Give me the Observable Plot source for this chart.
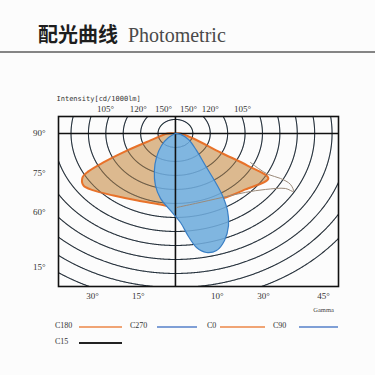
<!DOCTYPE html>
<html>
<head>
<meta charset="utf-8">
<script src="https://cdn.jsdelivr.net/npm/d3@7"></script>
<script src="https://cdn.jsdelivr.net/npm/@observablehq/plot@0.6"></script>
<style>
  html, body { margin: 0; padding: 0; background: #fcfcfc; }
  #wrap { position: relative; width: 375px; height: 375px; overflow: hidden; background: #fcfcfc; }
  #chart { position: absolute; left: 0; top: 0; }
  .title { position: absolute; left: 38px; top: 19px; white-space: nowrap; }
  .title .cn { font-family: "Noto Sans CJK SC", sans-serif; font-weight: 700; font-size: 20px; color: #1e1e1e; }
  .title .en { font-family: "Liberation Serif", serif; font-size: 20px; color: #4a4a4a; margin-left: 10px; }
  .rule { position: absolute; left: 0; top: 51px; width: 375px; height: 2px; background: #858585; }
  .leg { position: absolute; font-family: "Liberation Serif", serif; font-size: 8px; color: #333; }
  .legline { position: absolute; height: 2px; }
</style>
</head>
<body>
<div id="wrap">
  <div class="title"><span class="cn">配光曲线</span><span class="en">Photometric</span></div>
  <div class="rule"></div>
  <div id="chart"></div>
  <div id="legend"></div>
</div>
<script>
// ---- data (ring units: x = horizontal, y = vertical, centre of the lamp at 0,0) ----
const rings = [1, 2, 3, 4, 5, 6, 7, 8, 9, 10, 11, 12];
const xDomain = [-6.72, 9.37];
const yDomain = [-10.93, 1.21];

const orangeX = [0, -0.46, -1.44, -2.76, -4.14, -5.0, -5.34, -5.29, -4.71, -3.56, -2.18, -0.86, 0, 1.03, 2.70, 4.02, 5.34, 4.14, 2.59, 1.03, 0.29, 0];
const orangeY = [0, 0, -0.5, -1.21, -2.07, -2.71, -3.14, -3.71, -4.07, -4.43, -4.79, -5.07, -5.29, -5.0, -4.64, -4.0, -3.21, -2.29, -1.36, -0.36, 0, 0];

const blueX = [0, -0.40, -0.80, -1.09, -1.21, -1.15, -0.86, -0.29, 0.29, 0.75, 1.21, 1.78, 2.36, 2.82, 3.05, 2.99, 2.70, 2.24, 1.72, 1.21, 0.75, 0.29, 0];
const blueY = [0, -0.29, -0.86, -1.71, -2.64, -3.71, -4.64, -5.5, -6.36, -7.36, -8.14, -8.5, -8.36, -7.64, -6.57, -5.5, -4.43, -3.36, -2.29, -1.21, -0.43, -0.07, 0];

const grayX = [0.06, 1.15, 2.70, 4.02, 5.17, 6.32, 6.78, 6.61, 6.03, 5.34, 4.77, 4.31];
const grayY = [-5.29, -5.0, -4.57, -4.21, -4.0, -3.93, -4.14, -3.64, -3.21, -2.93, -2.5, -2.07];

const leftTicks = [0, -2.86, -5.64, -9.57];
const leftLabels = ["90°", "75°", "60°", "15°"];
const bottomTicks = [-4.77, -2.13, 2.41, 5.06, 8.51];
const bottomLabels = ["30°", "15°", "10°", "30°", "45°"];
const topTicks = [-4.02, -2.13, -0.69, 0.75, 2.01, 3.85];
const topLabels = ["105°", "120°", "150°", "150°", "120°", "105°"];
const crossLines = [0];

const legendNames = ["C180", "C270", "C0", "C90", "C15"];
const legendColors = ["#f0a474", "#7f9fd6", "#f0a474", "#7f9fd6", "#222222"];

// ---- build tables ----
const poly = (xs, ys) => xs.map((x, i) => ({x, y: ys[i]}));
const orange = poly(orangeX, orangeY);
const blue = poly(blueX, blueY);
const gray = poly(grayX, grayY);

const ringPts = rings.flatMap(k => d3.range(0, 1441).map(i => {
  const t = i / 1440 * 2 * Math.PI;
  const x = k * Math.cos(t), y = k * Math.sin(t);
  const inside = x >= xDomain[0] && x <= xDomain[1] && y >= yDomain[0] && y <= yDomain[1];
  return {k, x, y: inside ? y : NaN};
}));

const chart = Plot.plot({
  width: 375,
  height: 375,
  marginLeft: 58,
  marginRight: 37,
  marginTop: 116,
  marginBottom: 89,
  style: {fontFamily: "Liberation Serif, serif", fontSize: "9px", background: "transparent", color: "#333"},
  x: {domain: xDomain, axis: null},
  y: {domain: yDomain, axis: null},
  marks: [
    Plot.line(ringPts, {x: "x", y: "y", z: "k", stroke: "#2a2a2a", strokeWidth: 1.05, clip: true}),
    Plot.line(orange, {x: "x", y: "y", fill: "#c68c46", fillOpacity: 0.6, stroke: "none", curve: "catmull-rom"}),
    Plot.line(orange, {x: "x", y: "y", stroke: "#e8722a", strokeWidth: 2, curve: "catmull-rom"}),
    Plot.line(blue, {x: "x", y: "y", fill: "#80b6e0", stroke: "none", curve: "catmull-rom"}),
    Plot.line(ringPts, {x: "x", y: "y", z: "k", stroke: "#1d4f80", strokeOpacity: 0.35, strokeWidth: 0.8, clip: true}),
    Plot.ruleX(crossLines, {stroke: "#111", strokeWidth: 1.6}),
    Plot.ruleY(crossLines, {stroke: "#111", strokeWidth: 1.6}),
    Plot.line(gray, {x: "x", y: "y", stroke: "#9a8a7a", strokeWidth: 1, curve: "catmull-rom"}),
    Plot.line(blue, {x: "x", y: "y", stroke: "#3a7fc4", strokeWidth: 1.2, curve: "catmull-rom"}),
    Plot.frame({stroke: "#111", strokeWidth: 1.6}),
    Plot.text(leftTicks, {y: d => d, text: (d, i) => leftLabels[i], frameAnchor: "left", dx: -13, textAnchor: "end", fill: "#333"}),
    Plot.text(bottomTicks, {x: d => d, text: (d, i) => bottomLabels[i], frameAnchor: "bottom", dy: 12, fill: "#333"}),
    Plot.text(topTicks, {x: d => d, text: (d, i) => topLabels[i], frameAnchor: "top", dy: -11, fill: "#333"}),
    Plot.text(["Gamma"], {x: bottomTicks[4], frameAnchor: "bottom", dy: 25, fontSize: 6.5, fill: "#444"}),
    Plot.text(["Intensity[cd/1000lm]"], {frameAnchor: "top-left", dy: -20, dx: -2, textAnchor: "start", fontFamily: "DejaVu Sans Mono, monospace", fontSize: 7, fill: "#333"})
  ]
});
document.getElementById("chart").appendChild(chart);

// ---- legend ----
const legend = document.getElementById("legend");
const legPos = [
  {tx: 55, lx: 79, lw: 43, y: 327},
  {tx: 130, lx: 157, lw: 40, y: 327},
  {tx: 207, lx: 220, lw: 45, y: 327},
  {tx: 273, lx: 299, lw: 39, y: 327},
  {tx: 55, lx: 79, lw: 43, y: 343}
];
legendNames.forEach((name, i) => {
  const p = legPos[i];
  const t = document.createElement("div");
  t.className = "leg";
  t.textContent = name;
  t.style.left = p.tx + "px";
  t.style.top = (p.y - 6) + "px";
  legend.appendChild(t);
  const l = document.createElement("div");
  l.className = "legline";
  l.style.left = p.lx + "px";
  l.style.top = (p.y - 1) + "px";
  l.style.width = p.lw + "px";
  l.style.background = legendColors[i];
  legend.appendChild(l);
});
</script>
</body>
</html>
